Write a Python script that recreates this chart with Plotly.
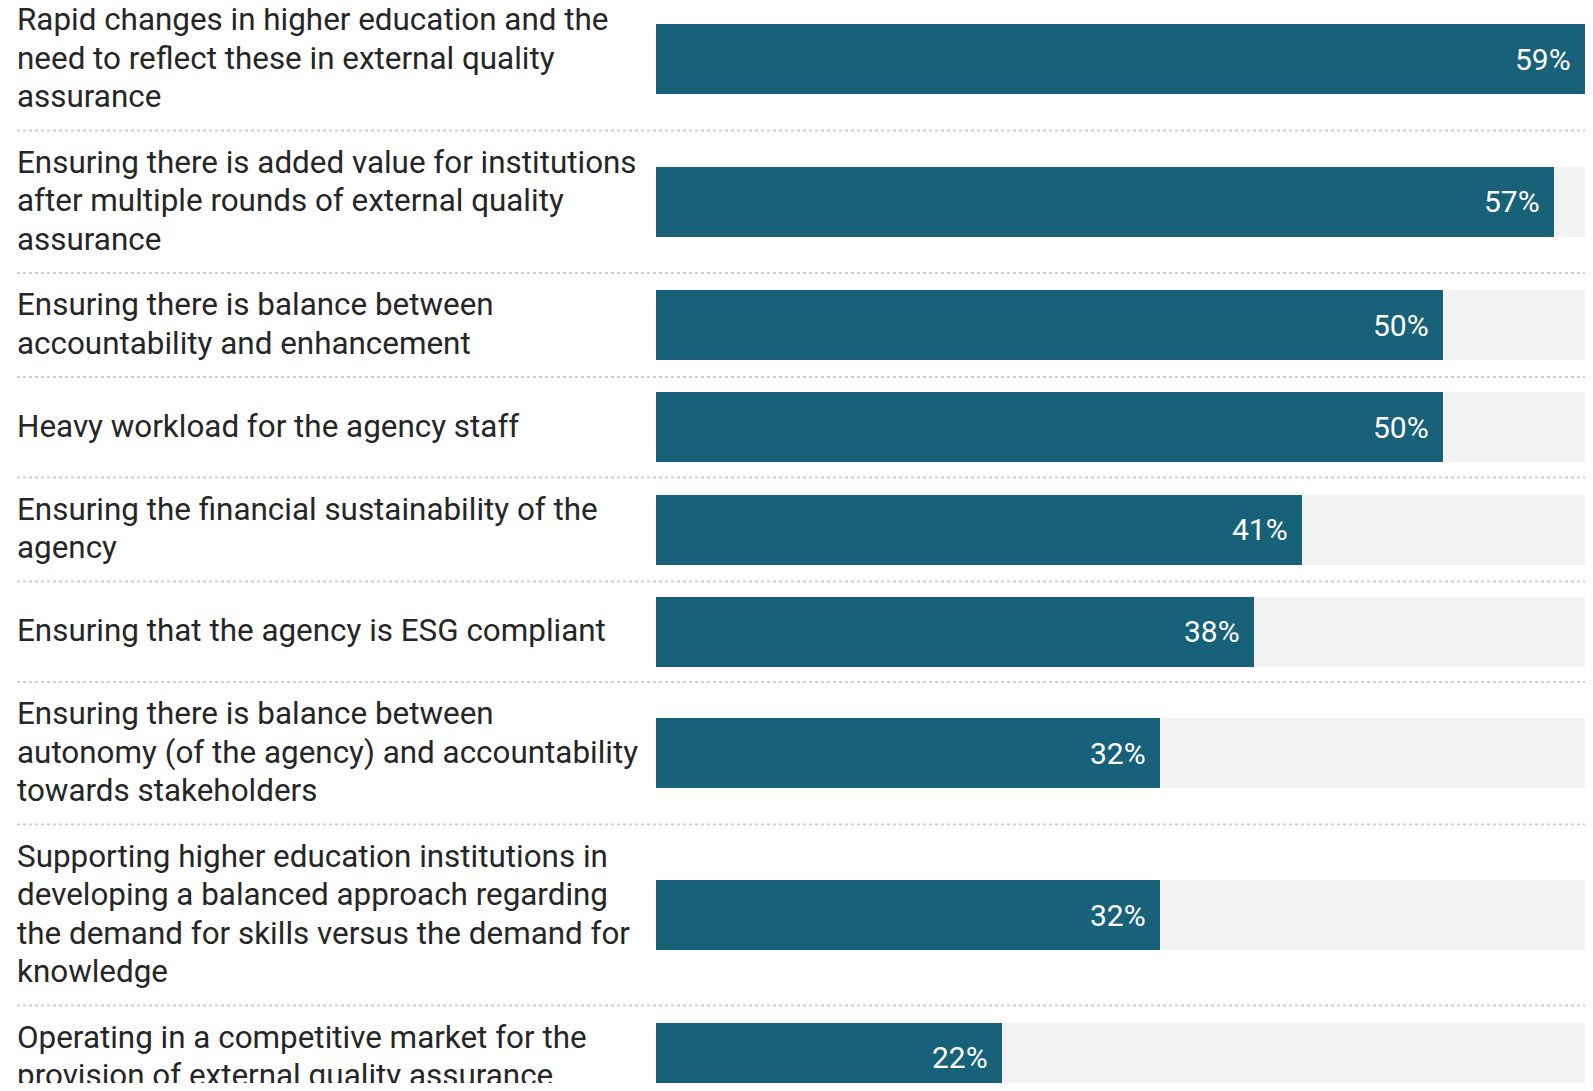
import plotly.graph_objects as go

labels = [
    "Rapid changes in higher education and the<br>need to reflect these in external quality<br>assurance",
    "Ensuring there is added value for institutions<br>after multiple rounds of external quality<br>assurance",
    "Ensuring there is balance between<br>accountability and enhancement",
    "Heavy workload for the agency staff",
    "Ensuring the financial sustainability of the<br>agency",
    "Ensuring that the agency is ESG compliant",
    "Ensuring there is balance between<br>autonomy (of the agency) and accountability<br>towards stakeholders",
    "Supporting higher education institutions in<br>developing a balanced approach regarding<br>the demand for skills versus the demand for<br>knowledge",
    "Operating in a competitive market for the<br>provision of external quality assurance",
]
values = [59, 57, 50, 50, 41, 38, 32, 32, 22]

# page geometry (browser body has an 8px margin)
PAGE_W, PAGE_H = 1593, 1091
BODY_M = 8
W, H = PAGE_W - 2 * BODY_M, PAGE_H - 2 * BODY_M

BAR_COLOR = "#176179"
BG_COLOR = "#f2f2f2"
TEXT_COLOR = "#262626"
FONT = "Roboto"
FS = 31.4
FS_VAL = 30
LINE_H = 38.5
PAD = 27
MIN_ROW = 100.5
BAR_H = 70
TOP_OFFSET = 12  # chart cropped at the top

# row layout derived from label line counts
lines_per_label = [lab.split("<br>") for lab in labels]
row_h = [max(PAD + LINE_H * len(ls), MIN_ROW) for ls in lines_per_label]
starts = []
acc = 0
for h in row_h:
    starts.append(acc)
    acc += h
centers = [s + h / 2 for s, h in zip(starts, row_h)]
bounds = [s + h for s, h in zip(starts, row_h)][:-1]

vmax = max(values)

fig = go.Figure()
fig.add_trace(go.Bar(
    x=[vmax] * len(values), y=centers, orientation="h", width=BAR_H,
    marker=dict(color=BG_COLOR, line=dict(width=0)), hoverinfo="skip", showlegend=False,
))
fig.add_trace(go.Bar(
    x=values, y=centers, orientation="h", width=BAR_H,
    marker=dict(color=BAR_COLOR, line=dict(width=0)), showlegend=False,
))

label_x = 15 - BODY_M
annotations = []
for ls, c, v in zip(lines_per_label, centers, values):
    n = len(ls)
    for i, line in enumerate(ls):
        annotations.append(dict(
            x=label_x / W, xref="paper", y=c + (i - (n - 1) / 2) * LINE_H - 1, yref="y",
            text=line, showarrow=False, xanchor="left", yanchor="middle", align="left",
            font=dict(family=FONT, size=FS, color=TEXT_COLOR),
        ))
    annotations.append(dict(
        x=v, xref="x", y=c, yref="y", text=f"{v}%", showarrow=False,
        xanchor="right", yanchor="middle", xshift=-12,
        font=dict(family=FONT, size=FS_VAL, color="white"),
    ))

x0_px, x1_px = 656 - BODY_M, min(1590 - BODY_M, W)
shapes = []
for b in bounds:
    shapes.append(dict(
        type="line", xref="paper", yref="y",
        x0=(17 - BODY_M) / W, x1=x1_px / W, y0=b, y1=b,
        line=dict(color="#cfcfcf", width=2, dash="dot"),
    ))

y_top = TOP_OFFSET + BODY_M
fig.update_layout(
    width=W, height=H,
    margin=dict(l=0, r=0, t=0, b=0),
    paper_bgcolor="white", plot_bgcolor="white",
    barmode="overlay", bargap=0,
    xaxis=dict(domain=[x0_px / W, x1_px / W], range=[0, vmax], visible=False, fixedrange=True),
    yaxis=dict(range=[H + y_top, y_top], visible=False, fixedrange=True),
    annotations=annotations, shapes=shapes,
    font=dict(family=FONT),
)

fig.write_html("out.html")
